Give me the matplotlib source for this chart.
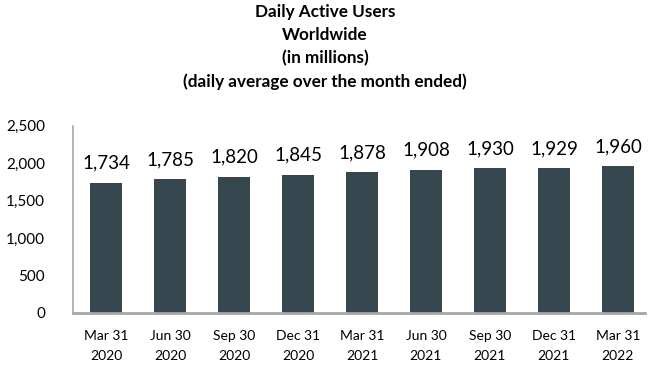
import matplotlib
matplotlib.use("Agg")
import matplotlib.pyplot as plt

quarters = ["Mar 31\n2020", "Jun 30\n2020", "Sep 30\n2020", "Dec 31\n2020",
            "Mar 31\n2021", "Jun 30\n2021", "Sep 30\n2021", "Dec 31\n2021",
            "Mar 31\n2022"]
dau = [1734, 1785, 1820, 1845, 1878, 1908, 1930, 1929, 1960]
y_ticks = [0, 500, 1000, 1500, 2000, 2500]

plt.rcParams["font.family"] = ["Lato", "DejaVu Sans"]

fig = plt.figure(figsize=(6.5, 3.66), dpi=100)
ax = fig.add_axes([0.112, 0.145, 0.880, 0.512])

x = range(len(dau))
ax.bar(x, dau, width=0.5, color="#36464f")

for xi, v in zip(x, dau):
    ax.annotate(f"{v:,}", (xi, v), xytext=(0, 8), textcoords="offset points",
                ha="center", va="bottom", fontsize=13.5, color="black")

ax.set_xlim(-0.52, 8.42)
ax.set_ylim(0, 2500)
ax.set_yticks(y_ticks)
ax.set_yticklabels([f"{t:,}" for t in y_ticks])
ax.set_xticks(list(x))
ax.set_xticklabels(quarters, linespacing=1.85)
ax.tick_params(axis="y", length=0, pad=20, labelsize=11)
ax.tick_params(axis="x", length=0, pad=12, labelsize=10)

for s in ["top", "right"]:
    ax.spines[s].set_visible(False)
ax.spines["left"].set_color("#a6a6a6")
ax.spines["bottom"].set_color("#a6a6a6")
ax.spines["left"].set_linewidth(1.2)
ax.spines["bottom"].set_linewidth(2)

fig.text(0.5, 0.99, "Daily Active Users\nWorldwide\n(in millions)\n(daily average over the month ended)",
         ha="center", va="top", fontsize=12.3, fontweight="bold", linespacing=1.55)

fig.savefig("out.png", dpi=100)
